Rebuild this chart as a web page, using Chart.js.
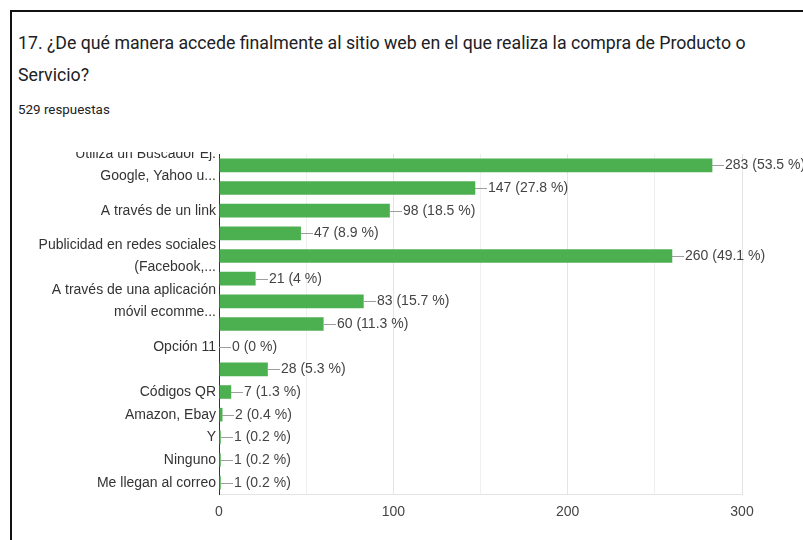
<!DOCTYPE html>
<html>
<head>
<meta charset="utf-8">
<script src="https://cdn.jsdelivr.net/npm/chart.js@4"></script>
<style>
  html, body { margin: 0; padding: 0; background: #fff; }
  body { width: 803px; height: 540px; position: relative; overflow: hidden; }
  .frame {
    position: absolute; left: 10px; top: 10px; width: 800px; height: 540px;
    border-top: 2px solid #111; border-left: 2px solid #111;
  }
  .title {
    position: absolute; left: 18px; top: 27px; width: 820px;
    font-family: Roboto, sans-serif; font-size: 18px; line-height: 32px;
    color: #202124; transform: scaleX(0.984); transform-origin: left top;
  }
  .count {
    position: absolute; left: 18px; top: 102px;
    font-family: Roboto, sans-serif; font-size: 13.4px; line-height: 16px;
    color: #202124;
  }
  .clip { position: absolute; left: 0; top: 152px; width: 803px; height: 388px; overflow: hidden; }
  .chart-box { position: relative; margin-top: -28px; width: 803px; height: 416px; }
</style>
</head>
<body>
<div class="frame"></div>
<div class="title">17. ¿De qué manera accede finalmente al sitio web en el que realiza la compra de Producto o<br>Servicio?</div>
<div class="count">529 respuestas</div>
<div class="clip"><div class="chart-box"><canvas id="chart"></canvas></div></div>

<script>
// Tick labels as shown on the axis (blank where the chart skipped them)
const categories = [
    ['Utiliza un Buscador Ej.', 'Google, Yahoo u...'],
    '',
    'A través de un link',
    '',
    ['Publicidad en redes sociales', '(Facebook,...'],
    '',
    ['A través de una aplicación', 'móvil ecomme...'],
    '',
    'Opción 11',
    '',
    'Códigos QR',
    'Amazon, Ebay',
    'Y',
    'Ninguno',
    'Me llegan al correo'
];
const responses = [283, 147, 98, 47, 260, 21, 83, 60, 0, 28, 7, 2, 1, 1, 1];
const percents = ['53.5', '27.8', '18.5', '8.9', '49.1', '4', '15.7', '11.3', '0', '5.3', '1.3', '0.4', '0.2', '0.2', '0.2'];
const xTicks = [0, 100, 200, 300];

const FONT = '"Liberation Sans", Arial, sans-serif';

// Draws the "—283 (53.5 %)" annotation next to each bar
const valueLabels = {
    id: 'valueLabels',
    afterDatasetsDraw(chart) {
        const ctx = chart.ctx;
        const meta = chart.getDatasetMeta(0);
        ctx.save();
        ctx.font = '14px ' + FONT;
        ctx.textBaseline = 'middle';
        meta.data.forEach((bar, i) => {
            const x = Math.round(bar.x);
            const y = Math.round(bar.y) + 0.5;
            ctx.strokeStyle = '#9e9e9e';
            ctx.lineWidth = 1;
            ctx.beginPath();
            ctx.moveTo(x, y);
            ctx.lineTo(x + 12, y);
            ctx.stroke();
            ctx.fillStyle = '#444';
            ctx.fillText(responses[i] + ' (' + percents[i] + ' %)', x + 13, y);
        });
        ctx.restore();
    }
};

new Chart(document.getElementById('chart'), {
    type: 'bar',
    data: {
        labels: categories,
        datasets: [{
            data: responses,
            backgroundColor: '#4caf50',
            barPercentage: 0.6,
            categoryPercentage: 1
        }]
    },
    options: {
        indexAxis: 'y',
        responsive: true,
        maintainAspectRatio: false,
        animation: false,
        layout: { padding: { top: 30, right: 61, bottom: 0, left: 0 } },
        plugins: {
            legend: { display: false },
            tooltip: { enabled: false }
        },
        scales: {
            x: {
                min: 0,
                max: 300,
                afterFit(scale) { scale.height = 46; },
                afterBuildTicks(scale) {
                    // gridlines every 50, labels only on the hundreds
                    scale.ticks = [0, 50, 100, 150, 200, 250, 300].map(v => ({ value: v }));
                },
                ticks: {
                    padding: 10,
                    color: '#444',
                    font: { family: FONT, size: 14 },
                    maxRotation: 0,
                    callback: v => xTicks.includes(v) ? String(v) : ''
                },
                grid: {
                    drawTicks: false,
                    color: ctx => {
                        const v = ctx.tick ? ctx.tick.value : null;
                        if (v === 0) return '#333';
                        return v % 100 === 0 ? '#e4e4e4' : '#efefef';
                    }
                },
                border: { display: true, color: '#e4e4e4' }
            },
            y: {
                afterFit(scale) { scale.width = 219; },
                ticks: {
                    autoSkip: false,
                    padding: 3,
                    color: '#333',
                    font: { family: FONT, size: 14, lineHeight: '22px' }
                },
                grid: { display: false, drawTicks: false },
                border: { display: true, color: '#333' }
            }
        }
    },
    plugins: [valueLabels]
});
</script>
</body>
</html>
